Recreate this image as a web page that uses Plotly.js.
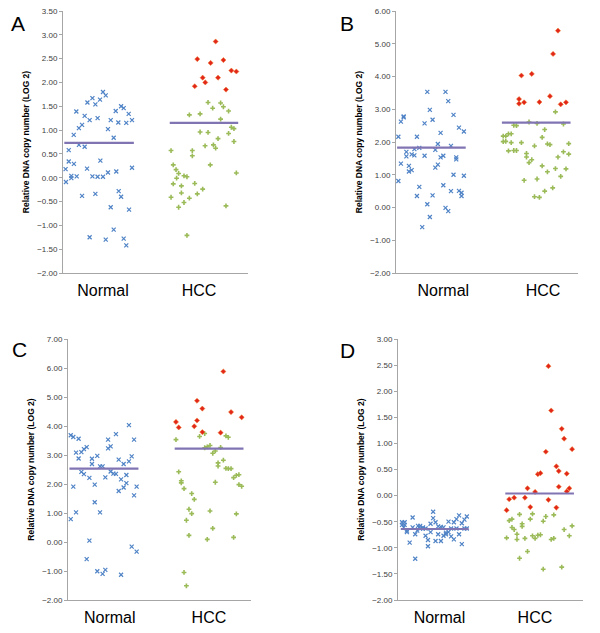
<!DOCTYPE html>
<html>
<head>
<meta charset="utf-8">
<script src="https://cdn.plot.ly/plotly-3.0.1.min.js"></script>
<style>html,body{margin:0;padding:0;background:#fff;}#chart{width:600px;height:633px;}</style>
</head>
<body>
<div id="chart"></div>
<script>
// ---------- Data (x = horizontal jitter position within panel, 0-100) ----------
const categories = ["Normal", "HCC"];
const yTitle = "Relative DNA copy number (LOG 2)";

// Panel A
const aNormX = [21.6,23.1,15.9,20.0,13.2,17.5,31.4,32.8,7.2,28.5,35.5,11.7,18.7,14.4,25.8,37.3,29.9,34.2,10.3,8.6,24.3,5.8,27.4,8.6,11.7,3.1,3.1,5.9,20.2,1.4,13.0,37.3,28.8,24.3,4.5,7.4,15.9,18.7,21.6,4.5,1.6,30.1,17.5,31.4,10.3,25.8,35.7,27.4,14.4,23.1,32.8,34.2];
const aNormY = [1.80,1.73,1.67,1.64,1.58,1.54,1.50,1.46,1.39,1.40,1.34,1.30,1.25,1.21,1.21,1.21,1.16,1.15,1.11,1.04,1.02,0.90,0.84,0.69,0.65,0.58,0.34,0.29,0.36,0.18,0.19,0.21,0.13,0.11,0.04,0.03,0.03,0.02,0.02,-0.01,-0.09,-0.28,-0.34,-0.40,-0.38,-0.62,-0.67,-1.09,-1.25,-1.30,-1.28,-1.42];
const aHccX = [58.4,69.9,68.3,74.1,78.4,80.9,85.2,86.7,89.5,85.2,91.0,92.4,74.1,78.4,83.8,89.5,92.4,76.8,81.3,82.5,69.9,79.6,59.6,61.1,62.5,61.4,65.4,67.0,93.7,59.6,64.0,71.2,75.5,64.0,72.6,58.4,68.3,65.4,62.5,88.1,67.0];
const aHccY = [0.57,0.57,1.32,1.34,1.58,1.46,1.57,1.49,1.40,1.23,1.06,1.03,0.96,0.95,0.82,0.93,0.76,0.67,0.69,0.62,0.46,0.27,0.27,0.17,0.09,-0.01,0.04,0.02,0.10,-0.13,-0.17,-0.12,-0.24,-0.32,-0.34,-0.41,-0.43,-0.52,-0.62,-0.59,-1.21];
const aHighX = [82.5,72.6,86.7,79.8,91.0,93.7,75.5,83.8,76.9,71.2,88.1];
const aHighY = [2.86,2.49,2.47,2.41,2.25,2.23,2.10,2.10,2.00,1.92,1.85];
const aMeans = [0.73, 1.15];

// Panel B
const bNormX = [1.3,2.7,4.2,4.2,1.3,2.7,5.7,5.7,7.1,7.1,8.6,8.6,10.1,10.1,11.5,12.8,12.8,11.5,14.4,15.7,15.7,17.2,17.2,18.6,18.6,20.1,20.1,21.6,23.0,23.0,21.6,24.5,24.5,26.0,26.0,27.2,27.2,28.7,28.7,30.2,30.2,31.6,31.6,33.1,33.1,34.6,34.6,36.0,36.0,37.3,37.3];
const bNormY = [2.16,2.62,2.75,2.78,0.81,1.34,1.70,1.56,1.27,1.10,1.14,1.62,1.59,1.78,2.16,1.82,0.63,0.35,-0.60,1.58,2.57,3.53,0.10,2.98,-0.29,2.68,0.37,1.22,1.31,1.94,1.76,2.28,1.53,1.58,0.68,-0.01,3.53,-0.11,3.25,1.88,0.50,2.83,1.00,1.53,1.47,2.44,0.51,0.45,0.35,2.32,0.97];
const bHccX = [58.9,58.9,60.3,60.3,61.8,63.3,63.3,61.8,64.7,66.2,64.7,66.2,68.9,70.4,71.7,71.7,73.1,73.1,74.6,76.1,77.5,77.5,76.1,78.8,80.3,80.3,81.7,81.7,83.2,83.2,84.6,86.1,87.6,87.6,89.0,90.5,92.0,92.0,93.4,94.9,94.9];
const bHccY = [2.18,2.01,2.18,2.02,2.25,2.25,1.98,1.73,2.51,2.50,1.74,1.74,1.98,0.83,1.65,1.54,1.37,2.61,1.46,1.88,2.57,0.87,0.33,0.31,2.14,1.27,2.38,0.50,1.94,1.09,1.92,0.60,1.19,2.92,1.54,0.95,2.55,1.70,1.18,1.95,1.63];
const bHighX = [68.9,74.6,89.0,86.3,67.6,67.6,70.4,78.8,84.6,90.5,93.4];
const bHighY = [4.03,4.08,5.40,4.69,3.31,3.17,3.21,3.22,3.40,3.15,3.21];
const bMeans = [1.83, 2.59];

// Panel C
const cNormX = [1.5,2.9,1.5,2.9,4.4,4.4,5.8,5.8,7.3,7.3,8.7,8.7,10.2,10.2,11.7,11.7,13.1,13.1,14.6,14.6,16.0,16.0,17.5,17.5,18.9,18.9,20.4,20.4,21.9,21.9,23.3,23.3,24.8,26.2,26.2,27.7,27.7,29.0,29.0,30.4,30.4,31.9,31.9,33.3,33.3,34.8,34.8,36.1,36.1,37.5,37.5];
const cNormY = [3.68,3.62,0.79,1.91,3.08,1.02,3.56,2.88,3.10,2.42,3.20,2.34,3.27,-0.59,2.21,0.05,2.87,2.69,1.98,1.37,2.97,-1.01,2.61,1.02,2.61,-1.10,2.23,-0.96,3.53,3.23,3.30,2.43,2.36,2.35,3.72,2.84,1.76,2.16,-1.13,2.69,1.88,2.31,2.03,2.78,4.03,2.95,-0.16,3.53,1.61,1.91,-0.33];
const cHccX = [59.0,60.5,61.9,61.9,63.4,64.7,66.1,66.1,67.6,67.6,69.0,63.4,64.7,71.9,74.7,74.7,76.1,77.6,76.1,77.6,79.1,79.1,80.5,80.5,82.0,82.0,83.4,84.9,86.3,87.6,86.3,87.6,89.1,90.5,90.5,92.0,92.0,93.4,93.4,94.9];
const cHccY = [3.53,2.42,2.11,2.04,1.84,0.75,1.13,0.23,0.98,1.67,1.47,-1.05,-1.51,3.64,3.74,3.25,3.28,3.33,0.09,1.07,3.06,0.47,3.14,2.06,2.73,2.62,3.26,2.82,3.66,3.61,2.54,2.53,2.53,2.22,0.16,2.30,0.97,2.32,1.98,1.92];
const cHighX = [59.0,60.5,69.0,70.5,70.5,73.4,73.4,83.4,84.9,89.1,94.9];
const cHighY = [4.14,3.95,3.99,4.87,4.19,4.60,3.79,3.77,5.88,4.48,4.30];
const cMeans = [2.53, 3.22];

// Panel D
const dNormX = [2.2,2.2,3.6,3.6,3.1,4.8,4.8,6.3,7.9,7.9,9.3,9.3,10.4,10.8,12.0,12.0,13.5,13.5,14.9,14.9,16.2,16.2,17.6,17.6,19.0,19.0,20.3,20.3,21.7,21.7,23.2,23.2,24.6,24.6,25.9,25.9,27.3,27.3,28.7,28.7,30.2,30.2,31.6,31.6,33.0,33.0,34.5,34.5,35.9,35.9,37.2,37.2];
const dNormY = [-0.51,-0.56,-0.51,-0.56,-0.61,-0.67,-0.70,-0.90,-0.42,-0.61,-0.74,-1.21,-0.67,-0.58,-0.58,-0.63,-0.63,-0.61,-0.63,-0.77,-0.85,-0.97,-0.54,-0.70,-0.31,-0.43,-0.51,-0.87,-0.59,-0.74,-0.60,-0.87,-0.61,-0.77,-0.74,-0.71,-0.70,-0.50,-0.63,-0.78,-0.51,-0.84,-0.45,-0.63,-0.38,-0.74,-0.53,-0.93,-0.46,-0.63,-0.40,-0.63];
const dHccX = [58.7,60.1,61.6,61.6,62.8,64.3,64.3,65.7,65.7,67.1,67.1,68.6,70.0,71.5,72.7,72.7,74.1,75.6,77.0,78.5,78.5,79.9,82.8,84.2,84.2,88.5,89.8,92.6,94.1];
const dHccY = [-0.81,-0.48,-0.45,-0.61,-0.65,-0.74,-0.84,-0.36,-1.20,-0.54,-0.59,-0.82,-1.07,-0.45,-0.35,-0.77,-0.82,-0.76,-0.75,-0.49,-1.41,-0.40,-0.84,-0.82,-0.37,-1.37,-0.65,-0.77,-0.58];
const dHighX = [58.7,60.1,62.8,68.6,70.0,71.5,74.1,75.6,77.0,79.9,81.3,82.8,85.6,85.6,86.9,86.9,81.3,88.5,89.8,91.2,91.2,92.6,94.1];
const dHighY = [-0.28,-0.07,-0.04,-0.04,0.14,-0.22,0.07,0.41,0.43,0.84,-0.08,1.63,-0.23,0.56,0.47,0.17,2.48,1.28,1.09,0.42,0.08,0.14,0.89];
const dMeans = [-0.64, 0.04];

// ---------- Styling / layout ----------
const FONT = "'Liberation Sans', Arial, sans-serif";
const BLUE = "#4f83c6", GREEN = "#9bbb59", RED = "#e2261a", MEAN = "#8174b3", AXIS = "#a6a6a6";

const panels = [
  {id:"", letter:"A", nx:aNormX, ny:aNormY, hx:aHccX, hy:aHccY, rx:aHighX, ry:aHighY, means:aMeans,
   yr:[-2,3.5], dt:0.5, xd:[63,248], yd:[11,273], tick:[21.6,73.5], lp:[18,23]},
  {id:"2", letter:"B", nx:bNormX, ny:bNormY, hx:bHccX, hy:bHccY, rx:bHighX, ry:bHighY, means:bMeans,
   yr:[-2,6], dt:1, xd:[396,578], yd:[11,273], tick:[26,80.8], lp:[347,23]},
  {id:"3", letter:"C", nx:cNormX, ny:cNormY, hx:cHccX, hy:cHccY, rx:cHighX, ry:cHighY, means:cMeans,
   yr:[-2,7], dt:1, xd:[68,251], yd:[339,600], tick:[22.8,77], lp:[19,349]},
  {id:"4", letter:"D", nx:dNormX, ny:dNormY, hx:dHccX, hy:dHccY, rx:dHighX, ry:dHighY, means:dMeans,
   yr:[-2,3], dt:0.5, xd:[398,583], yd:[339,600], tick:[22.4,74], lp:[347,350]}
];

const W = 600, H = 633;
const traces = [];
const layout = {
  width: W, height: H, margin:{l:0,r:0,t:0,b:0},
  paper_bgcolor:"#fff", plot_bgcolor:"#fff",
  showlegend:false, font:{family:FONT, color:"#404040"},
  annotations:[]
};

panels.forEach(p => {
  const xa = "x"+p.id, ya = "y"+p.id;
  const lo = arr => Math.min(...arr) - 0.7, hi = arr => Math.max(...arr) + 1.0;
  const hccAllX = p.hx.concat(p.rx);
  traces.push({type:"scatter", mode:"markers", x:p.nx, y:p.ny, xaxis:xa, yaxis:ya,
    marker:{symbol:"x-thin-open", size:4, line:{color:BLUE, width:1.2}, color:BLUE}, hoverinfo:"skip"});
  traces.push({type:"scatter", mode:"markers", x:p.hx, y:p.hy, xaxis:xa, yaxis:ya,
    marker:{symbol:"cross", size:4, color:GREEN}, hoverinfo:"skip"});
  traces.push({type:"scatter", mode:"markers", x:p.rx, y:p.ry, xaxis:xa, yaxis:ya,
    marker:{symbol:"diamond", size:4, color:RED, line:{color:"#f08030", width:0.5}}, hoverinfo:"skip"});
  traces.push({type:"scatter", mode:"lines", x:[lo(p.nx), hi(p.nx)], y:[p.means[0], p.means[0]],
    xaxis:xa, yaxis:ya, line:{color:MEAN, width:2.2}, hoverinfo:"skip"});
  traces.push({type:"scatter", mode:"lines", x:[lo(hccAllX), hi(hccAllX)], y:[p.means[1], p.means[1]],
    xaxis:xa, yaxis:ya, line:{color:MEAN, width:2.2}, hoverinfo:"skip"});

  const xKey = "xaxis"+p.id, yKey = "yaxis"+p.id;
  layout[xKey] = {
    domain:[p.xd[0]/W, p.xd[1]/W], anchor:ya, range:[0,100], fixedrange:true,
    showgrid:false, zeroline:false, showline:true, linecolor:AXIS, linewidth:1,
    ticks:"", tickmode:"array", tickvals:p.tick, ticktext:categories,
    tickfont:{family:FONT, size:16, color:"#000"}, ticklabelstandoff:3
  };
  layout[yKey] = {
    domain:[1-p.yd[1]/H, 1-p.yd[0]/H], anchor:xa, range:p.yr, fixedrange:true,
    showgrid:false, zeroline:false, showline:true, linecolor:AXIS, linewidth:1,
    ticks:"outside", ticklen:3, tickcolor:AXIS, tickmode:"linear", tick0:-2, dtick:p.dt,
    tickformat:".2f", tickfont:{family:FONT, size:8, color:"#404040"},
    title:{text:yTitle, font:{family:FONT, size:8.5, color:"#000", weight:"bold"}, standoff:6}
  };
  layout.annotations.push({text:p.letter, xref:"paper", yref:"paper", x:p.lp[0]/W, y:1-p.lp[1]/H,
    xanchor:"center", yanchor:"middle", showarrow:false, font:{family:FONT, size:21, color:"#000"}});
});

Plotly.newPlot("chart", traces, layout, {staticPlot:true, displayModeBar:false});
</script>
</body>
</html>
